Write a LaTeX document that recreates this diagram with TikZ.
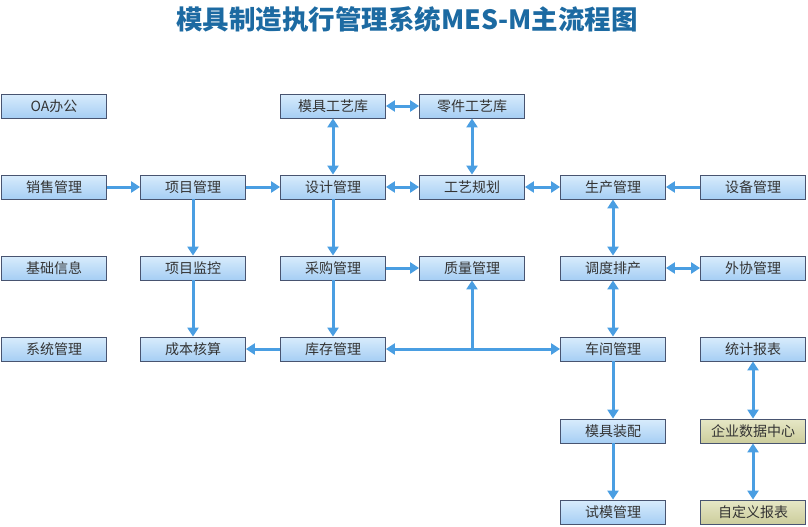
\documentclass[tikz,border=0pt]{standalone}
\usepackage{fontspec}
\newfontfamily\cjk{Noto Sans CJK SC}
\usetikzlibrary{arrows.meta,positioning}
\definecolor{boxtop}{RGB}{216,236,252}
\definecolor{boxbot}{RGB}{166,206,244}
\definecolor{boxline}{RGB}{72,84,112}
\definecolor{gtop}{RGB}{230,231,198}
\definecolor{gbot}{RGB}{204,205,156}
\definecolor{linkblue}{RGB}{74,158,226}
\definecolor{titleblue}{RGB}{28,106,162}
\tikzset{
  mbox/.style={draw=boxline, line width=0.8pt, top color=boxtop, bottom color=boxbot,
    minimum width=105pt, minimum height=24pt, inner sep=0pt,
    font=\cjk\fontsize{14}{15}\selectfont, text=black!80},
  gbox/.style={mbox, top color=gtop, bottom color=gbot},
  link/.style={draw=linkblue, line width=3pt, -{Triangle[length=9pt,width=11pt]}},
  dlink/.style={link, {Triangle[length=9pt,width=11pt]}-{Triangle[length=9pt,width=11pt]}},
}

\begin{document}
\begin{tikzpicture}[x=1pt,y=-1pt]
    \useasboundingbox (0,0) rectangle (808,527);

    % 标题
    \node[font=\cjk\bfseries\fontsize{26.5}{29}\selectfont, text=titleblue] (title) at (407,19)
        {模具制造执行管理系统MES-M主流程图};

    % 第一行
    \node[mbox] (oa) at (54,106) {OA办公};
    \node[mbox] (mouldlib) at (333,106) {模具工艺库};
    \node[mbox] (partlib) at (472,106) {零件工艺库};

    % 第二行
    \node[mbox] (sales) at (54,187) {销售管理};
    \node[mbox] (project) at (193,187) {项目管理};
    \node[mbox] (design) at (333,187) {设计管理};
    \node[mbox] (process) at (472,187) {工艺规划};
    \node[mbox] (production) at (613,187) {生产管理};
    \node[mbox] (equipment) at (753,187) {设备管理};

    % 第三行
    \node[mbox] (basic) at (54,268) {基础信息};
    \node[mbox] (monitor) at (193,268) {项目监控};
    \node[mbox] (purchase) at (333,268) {采购管理};
    \node[mbox] (quality) at (472,268) {质量管理};
    \node[mbox] (schedule) at (613,268) {调度排产};
    \node[mbox] (outsource) at (753,268) {外协管理};

    % 第四行
    \node[mbox] (system) at (54,349) {系统管理};
    \node[mbox] (cost) at (193,349) {成本核算};
    \node[mbox] (stock) at (333,349) {库存管理};
    \node[mbox] (workshop) at (613,349) {车间管理};
    \node[mbox] (stats) at (753,349) {统计报表};

    % 第五、六行
    \node[mbox] (assembly) at (613,431) {模具装配};
    \node[gbox] (datacenter) at (753,431) {企业数据中心};
    \node[mbox] (trial) at (613,512) {试模管理};
    \node[gbox] (custom) at (753,512) {自定义报表};

    % 项目流程
    \draw[link] (sales) -- (project);
    \draw[link] (project) -- (design);
    \draw[link] (project) -- (monitor);
    \draw[link] (monitor) -- (cost);

    % 工艺库
    \draw[dlink] (mouldlib) -- (partlib);
    \draw[dlink] (mouldlib) -- (design);
    \draw[dlink] (partlib) -- (process);
    \draw[dlink] (design) -- (process);
    \draw[dlink] (process) -- (production);
    \draw[link] (equipment) -- (production);

    % 采购与库存
    \draw[link] (design) -- (purchase);
    \draw[link] (purchase) -- (quality);
    \draw[link] (purchase) -- (stock);
    \draw[link] (stock) -- (cost);
    \draw[dlink] (stock) -- (workshop);
    \coordinate (qjoin) at (stock -| quality);
    \draw[link] (qjoin) -- (quality);

    % 生产调度
    \draw[dlink] (production) -- (schedule);
    \draw[dlink] (schedule) -- (outsource);
    \draw[dlink] (schedule) -- (workshop);
    \draw[link] (workshop) -- (assembly);
    \draw[link] (assembly) -- (trial);

    % 报表
    \draw[dlink] (stats) -- (datacenter);
    \draw[dlink] (datacenter) -- (custom);
\end{tikzpicture}
\end{document}
